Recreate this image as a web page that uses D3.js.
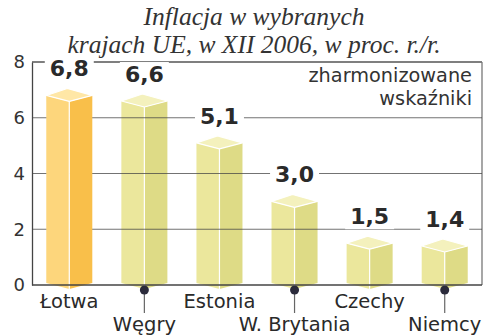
<!DOCTYPE html>
<html><head><meta charset="utf-8">
<script src="https://cdn.jsdelivr.net/npm/d3@7"></script>
<style>body{margin:0;background:#fff}svg{display:block}</style>
</head><body>
<script>
const categories = ["Łotwa","Węgry","Estonia","W. Brytania","Czechy","Niemcy"];
const values = [6.8, 6.6, 5.1, 3.0, 1.5, 1.4];
const valueLabels = ["6,8","6,6","5,1","3,0","1,5","1,4"];
const yTicks = [0,2,4,6,8];
const titleLines = ["Inflacja w wybranych","krajach UE, w XII 2006, w proc. r./r."];
const legendLines = ["zharmonizowane","wskaźniki"];

const W=500,H=336;
const L=32,R=482,T=62,B=285;
const svg=d3.select("body").append("svg").attr("width",W).attr("height",H);
const x=d3.scaleBand().domain(categories).range([L,R]).paddingInner(0.387).paddingOuter(0.19);
const y=d3.scaleLinear().domain([0,8]).range([B,T]);

// title
svg.append("g").selectAll("text").data(titleLines).join("text")
  .attr("x",254).attr("y",(d,i)=>25+i*28).attr("text-anchor","middle")
  .attr("font-family","'Liberation Serif',serif").attr("font-style","italic")
  .attr("font-size",25.5).attr("fill","#333").text(d=>d);

// frame top / right
svg.append("line").attr("x1",L).attr("x2",R).attr("y1",y(8)).attr("y2",y(8)).attr("stroke","#555").attr("stroke-width",1.3);
svg.append("line").attr("x1",R).attr("x2",R).attr("y1",y(8)).attr("y2",y(0)).attr("stroke","#777").attr("stroke-width",1.3);

// y axis
const ya=svg.append("g").attr("transform",`translate(${L},0)`)
  .call(d3.axisLeft(y).tickValues(yTicks).tickSize(0).tickPadding(7));
ya.select(".domain").attr("stroke","#444").attr("stroke-width",1.3);
ya.selectAll("text").attr("font-family","'DejaVu Sans',sans-serif").attr("font-size",18).attr("fill","#333");

const bw=x.bandwidth(), hw=bw/2, dy=6, back=7;
function faces(i){
  const cx=x(categories[i])+hw, yt=y(values[i]), yb=y(0)-2;
  return {cx,yt,yb};
}
const gBars=svg.append("g");
const gGrid=svg.append("g");
const gTop=svg.append("g");

function drawBar(g,i,cols){
  const {cx,yt,yb}=faces(i);
  const pl=[[cx-hw,yt],[cx,yt+dy],[cx,yb+dy],[cx-hw,yb]];
  const pr=[[cx,yt+dy],[cx+hw,yt],[cx+hw,yb],[cx,yb+dy]];
  const pt=[[cx-hw,yt],[cx-2,yt-back],[cx+hw,yt],[cx,yt+dy]];
  const line=d3.line();
  g.append("path").attr("d",line(pl)+"Z").attr("fill",cols[0]);
  g.append("path").attr("d",line(pr)+"Z").attr("fill",cols[1]);
  g.append("path").attr("d",line(pt)+"Z").attr("fill",cols[2]).attr("stroke","#fff").attr("stroke-width",1.2).attr("stroke-linejoin","round");
  g.append("line").attr("x1",cx).attr("x2",cx).attr("y1",yt+dy).attr("y2",yb+dy).attr("stroke","#fff").attr("stroke-width",1.2);
}
const yellow=["#ebe79c","#dedb86","#f4f1bd"];
const orange=["#fdd67c","#f9bf4a","#ffe7a6"];
values.forEach((v,i)=>{ if(i>0) drawBar(gBars,i,yellow); });

// gridlines
gGrid.selectAll("line").data([2,4,6]).join("line")
  .attr("x1",L).attr("x2",R).attr("y1",d=>y(d)).attr("y2",d=>y(d))
  .attr("stroke","#444").attr("stroke-width",1.2).attr("stroke-opacity",0.75);
// baseline
svg.append("line").attr("x1",L).attr("x2",R).attr("y1",y(0)).attr("y2",y(0)).attr("stroke","#444").attr("stroke-width",1.3);

drawBar(gTop,0,orange);

// legend
const lg=svg.append("g");
lg.selectAll("text").data(legendLines).join("text")
  .attr("x",472).attr("y",(d,i)=>82+i*23).attr("text-anchor","end")
  .attr("font-family","'DejaVu Sans',sans-serif").attr("font-size",19.3).attr("fill","#333").text(d=>d);

// value labels with white boxes
const vl=svg.append("g");
values.forEach((v,i)=>{
  const cx=x(categories[i])+hw, by=y(v)-19;
  const t=vl.append("text").attr("x",cx).attr("y",by).attr("text-anchor","middle")
    .attr("font-family","'DejaVu Sans',sans-serif").attr("font-weight","bold").attr("font-size",22)
    .attr("fill","#2a2a2a").text(valueLabels[i]);
  const bb=t.node().getBBox();
  vl.insert("rect","text").attr("x",bb.x-5).attr("y",bb.y).attr("width",bb.width+10).attr("height",bb.height).attr("fill","#fff");
});

// category labels
categories.forEach((c,i)=>{
  const cx=x(c)+hw;
  if(i%2===0){
    svg.append("text").attr("x",cx).attr("y",308).attr("text-anchor","middle")
      .attr("font-family","'DejaVu Sans',sans-serif").attr("font-size",19.5).attr("fill","#2a2a2a").text(c);
  } else {
    svg.append("line").attr("x1",cx).attr("x2",cx).attr("y1",y(0)+4).attr("y2",313).attr("stroke","#666").attr("stroke-width",1.2);
    svg.append("circle").attr("cx",cx).attr("cy",y(0)+5).attr("r",4.5).attr("fill","#2b2b3b");
    svg.append("text").attr("x",cx).attr("y",331).attr("text-anchor","middle")
      .attr("font-family","'DejaVu Sans',sans-serif").attr("font-size",19.5).attr("fill","#2a2a2a").text(c);
  }
});
</script>
</body></html>
